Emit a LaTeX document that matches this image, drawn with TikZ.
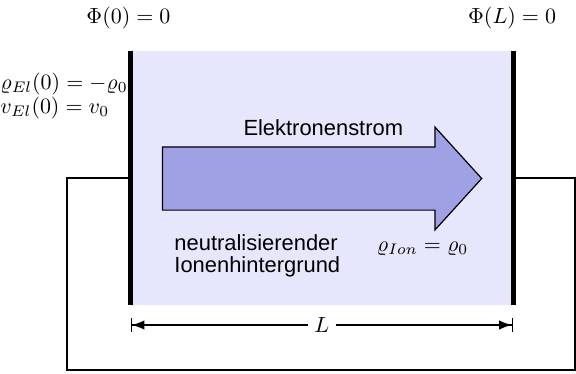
\documentclass[tikz,border=0pt]{standalone}
\usepackage{amsmath,amssymb}
\usepackage{fontspec}
\newfontfamily\labelfont{Liberation Sans}
\usetikzlibrary{arrows.meta}
\definecolor{chamber}{RGB}{230,230,252}
\definecolor{stream}{RGB}{160,160,228}

\begin{document}
\begin{tikzpicture}[scale=0.606,>=Latex,
  plate/.style={line width=2.3pt},
  wire/.style={line width=1.15pt},
  lbl/.style={font=\labelfont,inner sep=0pt}]
  \useasboundingbox (0,0) rectangle (15.24,9.895);
  % electrodes and the space between them
  \coordinate (pltop) at (3.453,8.546);
  \coordinate (plbot) at (3.453,1.826);
  \coordinate (prtop) at (13.573,8.546);
  \coordinate (prbot) at (13.573,1.826);
  \fill[chamber] (plbot) rectangle (prtop);
  % outer circuit
  \coordinate (wl) at (3.453,5.186);
  \coordinate (wr) at (13.573,5.186);
  \coordinate (cornl) at (1.773,5.186);
  \coordinate (cornb) at (15.22,0.106);
  \draw[wire] (wl) -- (cornl) |- (cornb) |- (wr);
  \draw[plate] (pltop) -- (plbot);
  \draw[plate] (prtop) -- (prbot);
  % electron stream
  \draw[line width=0.55pt,fill=stream] (4.299,6.008) -- (11.509,6.008) -- (11.509,6.532)
    -- (12.745,5.172) -- (11.509,3.812) -- (11.509,4.336) -- (4.299,4.336) -- cycle;
  \node[lbl] (strom) at (8.554,6.509) {Elektronenstrom};
  \node[lbl,anchor=west,align=left] (ionen) at (4.604,3.122) {neutralisierender\\[-2pt]Ionenhintergrund};
  \node[anchor=base,inner sep=0pt] (rhoion) at (11.18,3.254) {$\varrho_{Ion} = \varrho_0$};
  % boundary values
  \node (phil) at (3.40,9.42) {$\Phi(0) = 0$};
  \node (phir) at (13.55,9.42) {$\Phi(L) = 0$};
  \node[anchor=base west,inner sep=0pt] (rhoel) at (0.0,7.53) {$\varrho_{El}(0) = -\varrho_0$};
  \node[anchor=base west,inner sep=0pt] (vel) at (0.0,6.90) {$v_{El}(0) = v_0$};
  % length
  \coordinate (dl) at (3.453,1.296);
  \coordinate (dr) at (13.573,1.296);
  \draw[line width=0.6pt,{Bar[width=6pt]Latex[]}-{Latex[]Bar[width=6pt]}] (dl)
    -- node[fill=white,inner sep=3pt] (len) {$L$} (dr);
\end{tikzpicture}
\end{document}
